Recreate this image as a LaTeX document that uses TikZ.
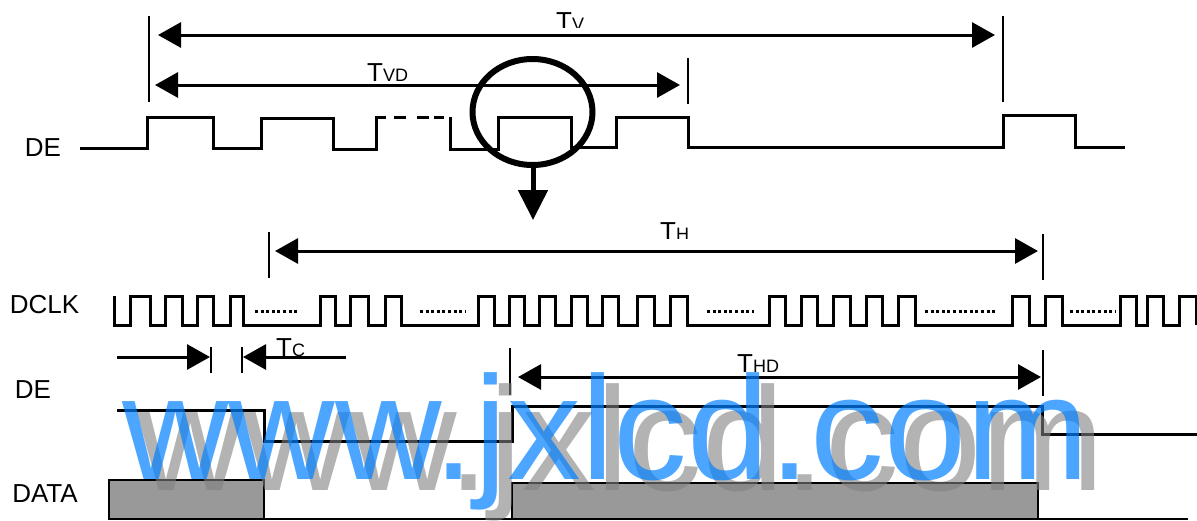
\documentclass[tikz,border=0pt]{standalone}
\usepackage{fontspec}
\setmainfont{Liberation Sans}
\usepackage{tikz}
\usetikzlibrary{arrows.meta}
\newcommand{\Sub}[2]{#1{\fontsize{18}{18}\selectfont #2}}
\tikzset{
  wave/.style={line width=3pt, line join=miter},
  tickline/.style={line width=2.2pt},
  dimline/.style={line width=3pt, -{Triangle[length=23pt,width=25pt]}},
  twoway/.style={line width=3pt, {Triangle[length=23pt,width=25pt]}-{Triangle[length=23pt,width=25pt]}},
  lbl/.style={inner sep=0pt, font=\fontsize{26}{26}\selectfont},
  wmark/.style={inner sep=0pt, font=\fontsize{147.5}{147.5}\selectfont}
}
\begin{document}
\begin{tikzpicture}[x=1pt, y=-1pt]

  \useasboundingbox (0,0) rectangle (1197,520);

  %% data blocks
  \draw[line width=2.4pt, fill=black!40] (109,480) rectangle (264,519);
  \draw[line width=2.4pt, fill=black!40] (512,483) rectangle (1038,519);
  \draw[line width=2.4pt] (264,519) -- (512,519);
  \draw[line width=2.4pt] (1038,519) -- (1188,519);

  %% top DE
  \draw[wave] (80,148) -| (147,117) -| (213,148) -| (261,118) -| (333,149) -| (376,117) -- (386,117);
  \foreach \a/\b in {394/406, 417/429, 434/444}
    \draw[wave] (\a,117) -- (\b,117);
  \draw[wave] (450,117) |- (498,149) |- (571,117) |- (616,147) |- (688,117) |- (1003,147)
    |- (1075,115) |- (1125,147);

  %% DCLK
  \draw[wave] (114,296) -- (114,325) -| (130,296) -| (150,325) -| (165,296) -| (182,325)
    -| (197,296) -| (213,325) -| (230,296) -| (243,325) -| (320,296) -| (335,325)
    -| (350,296) -| (368,325) -| (385,296) -| (401,325) -| (478,296) -| (494,325)
    -| (509,296) -| (524,325) -| (539,296) -| (555,325) -| (571,296) -| (587,325)
    -| (602,296) -| (618,325) -| (637,296) -| (654,325) -| (670,296) -| (687,325)
    -| (769,296) -| (785,325) -| (801,296) -| (817,325) -| (833,296) -| (850,325)
    -| (866,296) -| (882,325) -| (898,296) -| (915,325) -| (1012,296) -| (1029,325)
    -| (1045,296) -| (1062,325) -| (1120,296) -| (1136,325) -| (1147,296) -| (1163,325)
    -| (1179,296) -| (1196,325);
  \foreach \a/\b in {255/297, 420/466, 707/754, 925/997, 1070/1116}
    \draw[line width=3pt, dash pattern=on 3pt off 2.6pt] (\a,311) -- (\b,311);

  %% lower DE
  \draw[wave] (117,410) -| (264,441) -| (512,406) -| (1042,434) -- (1197,434);

  %% ticks
  \draw[tickline] (149,16) -- (149,102);
  \draw[tickline] (1003,16) -- (1003,102);
  \draw[tickline] (688,58) -- (688,104);
  \draw[tickline] (269,232) -- (269,278);
  \draw[tickline] (1043,234) -- (1043,280);
  \draw[tickline] (211,347) -- (211,373);
  \draw[tickline] (242,347) -- (242,373);
  \draw[tickline] (510,348) -- (510,395);
  \draw[tickline] (1043,350) -- (1043,396);

  %% arrows
  \coordinate (tvL) at (158,35);
  \coordinate (tvR) at (995,35);
  \coordinate (tvdL) at (155,85);
  \coordinate (tvdR) at (680,85);
  \coordinate (thL) at (275,251);
  \coordinate (thR) at (1038,251);
  \coordinate (thdL) at (518,377);
  \coordinate (thdR) at (1041,377);
  \coordinate (tcA) at (117,357);
  \coordinate (tcB) at (210,357);
  \coordinate (tcC) at (346,357);
  \coordinate (tcD) at (243,357);
  \coordinate (lensA) at (533,168);
  \coordinate (lensB) at (533,220);

  \draw[twoway] (tvL) -- (tvR); % Tv
  \draw[twoway] (tvdL) -- (tvdR); % Tvd
  \draw[twoway] (thL) -- (thR); % Th
  \draw[twoway] (thdL) -- (thdR); % Thd
  \draw[dimline] (tcA) -- (tcB);
  \draw[dimline] (tcC) -- (tcD);
  \draw[line width=5pt, -{Triangle[length=30pt,width=29pt]}] (lensA) -- (lensB);

  %% lens
  \draw[line width=6pt] (532.5,112) ellipse (60 and 53);

  %% labels
  \node[lbl] (deTop) at (43,148) {DE};
  \node[lbl] (dclk) at (44.5,305) {DCLK};
  \node[lbl] (deLow) at (33,390) {DE};
  \node[lbl] (data) at (45,494) {DATA};
  \begin{scope}
    \clip (540,0) rectangle (600,27);
    \node[lbl, anchor=base west] (tv) at (556,30.6) {\Sub{T}{V}};
  \end{scope}
  \begin{scope}
    \clip (350,50) rectangle (420,81);
    \node[lbl, anchor=base west] (tvd) at (367,81.6) {\Sub{T}{VD}};
  \end{scope}
  \begin{scope}
    \clip (650,215) rectangle (700,238);
    \node[lbl, anchor=base west] (th) at (660,240.6) {\Sub{T}{H}};
  \end{scope}
  \node[lbl, anchor=base west] (tc) at (276,356) {\Sub{T}{C}};
  \node[lbl, anchor=base west] (thd) at (737,372) {\Sub{T}{HD}};

  %% watermark
  \node[wmark, anchor=base west, text=black!50, opacity=.6] (wmShade) at (137,490) {www.jxlcd.com};
  \node[wmark, anchor=base west, text={rgb,255:red,0;green,128;blue,255}, opacity=.7] (wmBlue) at (122,479) {www.jxlcd.com};

\end{tikzpicture}
\end{document}
